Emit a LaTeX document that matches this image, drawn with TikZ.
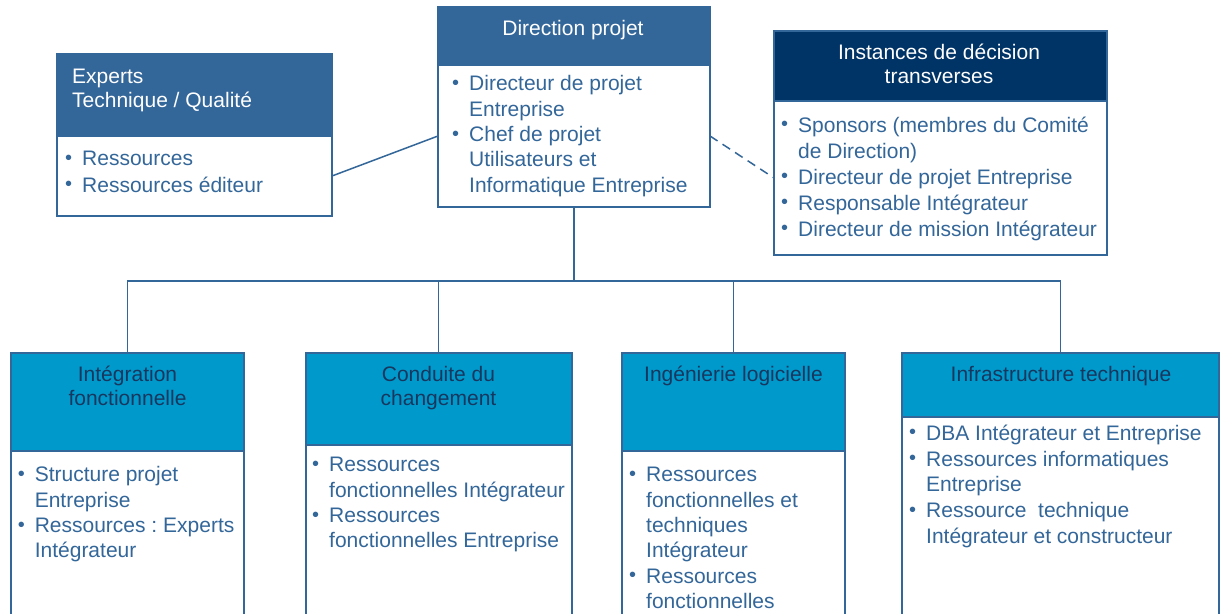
\documentclass[tikz,border=0pt]{standalone}
\usepackage{fontspec}
\setmainfont{Liberation Sans}
\frenchspacing
\definecolor{steel}{HTML}{336699}
\definecolor{navy}{HTML}{003366}
\definecolor{cyanhdr}{HTML}{0099CC}
\definecolor{hdrtxt}{HTML}{17375E}
\newcommand{\Bu}{\makebox[16pt][l]{\hspace*{-1pt}\raisebox{1.5pt}{\fontsize{20}{20}\selectfont\textbullet}}\strut}
\newcommand{\Nb}{\hspace*{16pt}}
\tikzset{
  box/.style={draw=steel, line width=2pt, anchor=north west, inner sep=0pt, outer sep=0pt},
  hdrmid/.style={box, fill=steel},
  hdrdark/.style={box, fill=navy},
  hdrcyan/.style={box, fill=cyanhdr},
  bodybox/.style={box, fill=white},
  bodytxt/.style={anchor=north west, inner sep=0pt, align=left, text=steel,
    font=\fontsize{21}{25.3}\selectfont},
  titletxt/.style={anchor=north, inner sep=0pt, align=center,
    font=\fontsize{21}{24.5}\selectfont},
  link/.style={draw=steel, line width=1.5pt},
}
\begin{document}
\begin{tikzpicture}[x=1pt,y=-1pt]
\useasboundingbox (0,0) rectangle (1220,613);
\clip (0,0) rectangle (1220,613);
\fill[white] (0,0) rectangle (1220,613);

% Top boxes
\node[hdrmid, minimum width=275pt, minimum height=82pt] (exH) at (57,54) {};
\node[bodybox, minimum width=275pt, minimum height=80pt] (exB) at (57,136) {};
\node[hdrmid, minimum width=272pt, minimum height=58pt] (dirH) at (438,7) {};
\node[bodybox, minimum width=272pt, minimum height=142pt] (dirB) at (438,65) {};
\node[hdrdark, minimum width=333pt, minimum height=70pt] (insH) at (774,31) {};
\node[bodybox, minimum width=333pt, minimum height=154pt] (insB) at (774,101) {};

% Bottom boxes
\node[hdrcyan, minimum width=233pt, minimum height=98pt] (intH) at (11,353) {};
\node[bodybox, minimum width=233pt, minimum height=180pt] (intB) at (11,451) {};
\node[hdrcyan, minimum width=266pt, minimum height=92pt] (conH) at (305.5,353) {};
\node[bodybox, minimum width=266pt, minimum height=190pt] (conB) at (305.5,445) {};
\node[hdrcyan, minimum width=223pt, minimum height=98pt] (ingH) at (622,353) {};
\node[bodybox, minimum width=223pt, minimum height=180pt] (ingB) at (622,451) {};
\node[hdrcyan, minimum width=317pt, minimum height=64pt] (infH) at (902,353) {};
\node[bodybox, minimum width=317pt, minimum height=220pt] (infB) at (902,417) {};

% Titles
\node[titletxt, anchor=north west, align=left, text=white] (exT) at (72,66) {\strut Experts\\Technique / Qualité};
\node[titletxt, text=white] (dirT) at (573,18) {\strut Direction projet};
\node[titletxt, text=white] (insT) at (939,42) {\strut Instances de décision\\transverses};
\node[titletxt, text=hdrtxt] (intT) at (127.5,364) {\strut Intégration\\fonctionnelle};
\node[titletxt, text=hdrtxt] (conT) at (438.5,364) {\strut Conduite du\\changement};
\node[titletxt, text=hdrtxt] (ingT) at (733.5,364) {\strut Ingénierie logicielle};
\node[titletxt, text=hdrtxt] (infT) at (1061,364) {\strut Infrastructure technique};

% Bodies
\node[bodytxt, font=\fontsize{21}{26.5}\selectfont] (exL) at (66,147) {\Bu Ressources\\\Bu Ressources éditeur};
\node[bodytxt] (dirL) at (453,73) {\Bu Directeur de projet\\\Nb Entreprise\\\Bu Chef de projet\\\Nb Utilisateurs et\\\Nb Informatique Entreprise};
\node[bodytxt, font=\fontsize{21}{26}\selectfont] (insL) at (782,114) {\Bu Sponsors (membres du Comité\\\Nb de Direction)\\\Bu Directeur de projet Entreprise\\\Bu Responsable Intégrateur\\\Bu Directeur de mission Intégrateur};
\node[bodytxt] (intL) at (18.6,464) {\Bu Structure projet\\\Nb Entreprise\\\Bu Ressources : Experts\\\Nb Intégrateur};
\node[bodytxt] (conL) at (313,454) {\Bu Ressources\\\Nb fonctionnelles Intégrateur\\\Bu Ressources\\\Nb fonctionnelles Entreprise};
\node[bodytxt] (ingL) at (630,464) {\Bu Ressources\\\Nb fonctionnelles et\\\Nb techniques\\\Nb Intégrateur\\\Bu Ressources\\\Nb fonctionnelles};
\node[bodytxt, font=\fontsize{21}{25.8}\selectfont] (infL) at (910,422) {\Bu DBA Intégrateur et Entreprise\\\Bu Ressources informatiques\\\Nb Entreprise\\\Bu Ressource\ \ technique\\\Nb Intégrateur et constructeur};

% Connectors
\draw[link] (exB.east) -- (dirB.west);
\draw[link, dash pattern=on 9pt off 6pt] (dirB.east) -- (insB.west);
\coordinate (bus) at (574,281);
\draw[link] (dirB.south) -- (bus);
\draw[link] (intH.north) |- (bus) -| (infH.north);
\draw[link] (conH.north) -- (conH.north |- bus);
\draw[link] (ingH.north) -- (ingH.north |- bus);
\end{tikzpicture}
\end{document}
